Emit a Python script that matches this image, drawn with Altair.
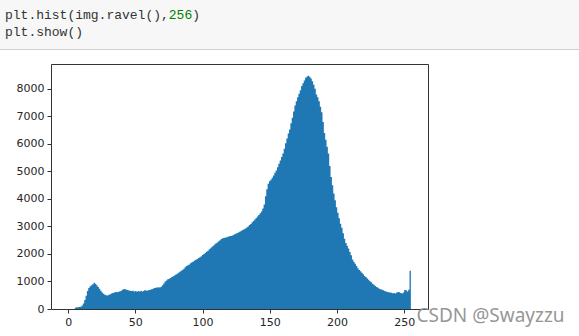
import altair as alt
import pandas as pd

# histogram counts for pixel values 0..255
counts = [
    0, 0, 0, 0, 0, 45, 60, 60, 70, 80,
    130, 200, 330, 480, 650, 760, 830, 860, 900, 950,
    920, 860, 800, 740, 660, 600, 550, 520, 500, 490,
    520, 540, 560, 580, 600, 620, 610, 630, 640, 650,
    700, 720, 730, 700, 690, 670, 660, 650, 660, 640,
    650, 630, 650, 640, 660, 640, 650, 690, 660, 670,
    690, 700, 720, 740, 760, 770, 780, 790, 780, 810,
    860, 930, 1000, 1040, 1080, 1100, 1130, 1160, 1190, 1220,
    1250, 1280, 1320, 1350, 1390, 1420, 1460, 1520, 1560, 1590,
    1620, 1660, 1700, 1730, 1760, 1790, 1820, 1850, 1880, 1920,
    1960, 2000, 2040, 2080, 2120, 2170, 2210, 2260, 2300, 2340,
    2390, 2420, 2460, 2500, 2540, 2570, 2580, 2600, 2610, 2630,
    2640, 2650, 2660, 2690, 2720, 2740, 2760, 2790, 2820, 2840,
    2870, 2900, 2930, 2960, 3000, 3050, 3090, 3150, 3200, 3250,
    3310, 3360, 3420, 3480, 3540, 3650, 3800, 4100, 4350, 4550,
    4640, 4700, 4770, 4850, 4950, 5030, 5150, 5280, 5400, 5520,
    5650, 5820, 6020, 6200, 6380, 6520, 6750, 6950, 7180, 7400,
    7550, 7700, 7820, 7950, 8100, 8200, 8300, 8400, 8450, 8480,
    8440, 8380, 8280, 8150, 8000, 7800, 7700, 7550, 7350, 7150,
    6800, 6400, 6150, 5900, 5650, 5200, 4800, 4500, 4200, 3950,
    3700, 3500, 3300, 3100, 2950, 2750, 2550, 2400, 2300, 2200,
    2070, 1950, 1800, 1720, 1640, 1560, 1480, 1420, 1370, 1320,
    1260, 1200, 1160, 1110, 1060, 1010, 970, 920, 880, 840,
    800, 770, 740, 720, 700, 680, 650, 640, 620, 610,
    600, 590, 570, 580, 560, 600, 620, 610, 580, 560,
    600, 690, 680, 640, 700, 1390,
]
n_bins = 256
x_ticks = [0, 50, 100, 150, 200, 250]
y_ticks = [0, 1000, 2000, 3000, 4000, 5000, 6000, 7000, 8000]
code_line1a = "plt.hist(img.ravel(),"
code_line1b = "256"
code_line1c = ")"
code_line2 = "plt.show()"
watermark = "CSDN @Swayzzu"

bw = 255 / n_bins
# bin left edges plus the closing right edge of the last bin (step outline)
edges = [i * bw for i in range(n_bins)] + [n_bins * bw]
heights = counts + [counts[-1]]
df = pd.DataFrame({"edge": edges, "count": heights})

ymax = max(counts) * 1.05
blue = "#1f77b4"

bars = alt.Chart(df).mark_area(color=blue, interpolate="step-after", opacity=1).encode(
    x=alt.X("edge:Q", scale=alt.Scale(domain=[-12.75, 267.75], nice=False, zero=False),
            axis=alt.Axis(values=x_ticks, title=None, format="d")),
    y=alt.Y("count:Q", scale=alt.Scale(domain=[0, ymax], nice=False),
            axis=alt.Axis(values=y_ticks, title=None, format="d")),
)

one = pd.DataFrame({"k": [0]})
cw = 7.8  # monospace advance at 13px
mono = "Liberation Mono"
code_bg = alt.Chart(one).mark_rect(fill="#f7f7f7", stroke="#cfcfcf", strokeWidth=1).encode(
    x=alt.value(-51.5), x2=alt.value(529), y=alt.value(-65), y2=alt.value(-14.5)
)


def code_text(txt, x, y, color):
    return alt.Chart(one).mark_text(font=mono, fontSize=13, align="left",
                                    baseline="alphabetic", color=color).encode(
        x=alt.value(x), y=alt.value(y), text=alt.value(txt))


x0 = -46
t1 = code_text(code_line1a, x0, -45, "#333333")
t2 = code_text(code_line1b, x0 + cw * len(code_line1a), -45, "#008000")
t3 = code_text(code_line1c, x0 + cw * (len(code_line1a) + 3), -45, "#333333")
t4 = code_text(code_line2, x0, -28, "#333333")

wm = alt.Chart(one).mark_text(font="Noto Sans", fontSize=19, align="left",
                              baseline="alphabetic", color="#8c8c8c", opacity=0.9).encode(
    x=alt.value(365.5), y=alt.value(258), text=alt.value(watermark))

chart = alt.layer(code_bg, t1, t2, t3, t4, bars, wm).properties(
    width=377, height=245,
    autosize=alt.AutoSizeParams(type="none"),
    padding={"left": 51, "top": 64, "right": 151, "bottom": 27},
    background="white",
).configure_view(stroke="#333333", strokeWidth=1).configure_axis(
    grid=False, domain=False, tickSize=4, tickColor="#333333", tickWidth=1,
    labelFont="DejaVu Sans", labelFontSize=11, labelColor="#262626", labelPadding=3,
)

chart.save("out.html", embed_options={"renderer": "svg", "actions": False})
